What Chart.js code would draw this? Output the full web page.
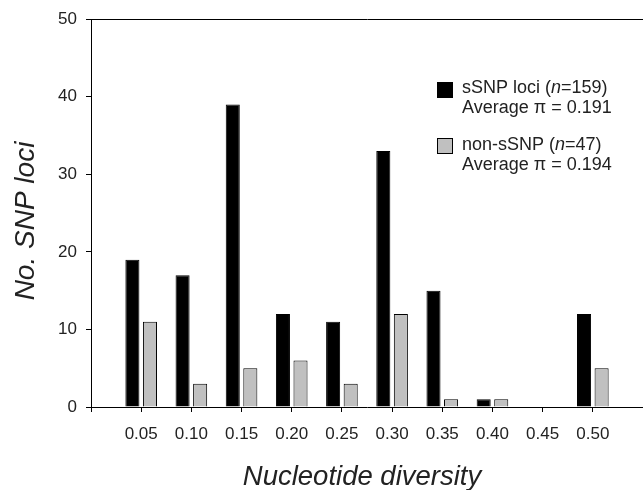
<!DOCTYPE html>
<html>
<head>
<meta charset="utf-8">
<script src="https://cdn.jsdelivr.net/npm/chart.js@4"></script>
<style>
  html, body { margin: 0; padding: 0; background: #fff; overflow: hidden; }
  canvas { display: block; }
</style>
</head>
<body>
<canvas id="c" width="643" height="490"></canvas>
<script>
// ---- data ----
const diversity = [0.05, 0.10, 0.15, 0.20, 0.25, 0.30, 0.35, 0.40, 0.45, 0.50];
const sSNP      = [19, 17, 39, 12, 11, 33, 15, 1, 0, 12];
const nonSSNP   = [11, 3, 5, 6, 3, 12, 1, 1, 0, 5];
const yTicks    = [0, 10, 20, 30, 40, 50];
const legendLines = [
  ["sSNP loci (", "n", "=159)"],
  ["Average \u03c0 = 0.191"],
  ["non-sSNP (", "n", "=47)"],
  ["Average \u03c0 = 0.194"]
];
const xTitle = "Nucleotide diversity";
const yTitle = "No. SNP loci";

const FONT = "'Liberation Sans', Arial, Helvetica, sans-serif";
const TEXT = "#222";

const overlay = {
  id: 'overlay',
  afterDraw(chart) {
    const ctx = chart.ctx;
    ctx.save();
    // axis titles
    ctx.fillStyle = TEXT;
    ctx.textAlign = "center";
    ctx.textBaseline = "alphabetic";
    ctx.font = "italic 27.5px " + FONT;
    ctx.fillText(xTitle, 362, 485);
    ctx.save();
    ctx.font = "italic 28px " + FONT;
    ctx.translate(34, 221);
    ctx.rotate(-Math.PI / 2);
    ctx.fillText(yTitle, 0, 0);
    ctx.restore();

    // legend
    const sq = [[437, 82, '#000000'], [437, 138, '#c0c0c0']];
    sq.forEach(([x, y, c]) => {
      ctx.fillStyle = c;
      ctx.fillRect(x, y, 16, 16);
      ctx.strokeStyle = '#000';
      ctx.lineWidth = 1;
      ctx.strokeRect(x + 0.5, y + 0.5, 15, 15);
    });
    const ys = [88, 108, 145, 165];
    ctx.textAlign = "left";
    ctx.textBaseline = "middle";
    legendLines.forEach((parts, i) => {
      let x = 462;
      parts.forEach((p, j) => {
        ctx.font = (parts.length === 3 && j === 1 ? "italic " : "") + "18px " + FONT;
        ctx.fillStyle = TEXT;
        ctx.fillText(p, x, ys[i]);
        x += ctx.measureText(p).width;
      });
    });
    ctx.restore();
  }
};

new Chart(document.getElementById('c'), {
  type: 'bar',
  data: {
    datasets: [
      {
        label: 'sSNP loci',
        data: diversity.map((d, i) => ({ x: d, y: sSNP[i] })),
        backgroundColor: '#000000',
        borderColor: '#000000',
        borderWidth: 1
      },
      {
        label: 'non-sSNP',
        data: diversity.map((d, i) => ({ x: d, y: nonSSNP[i] })),
        backgroundColor: '#c0c0c0',
        borderColor: '#000000',
        borderWidth: 1
      }
    ]
  },
  options: {
    responsive: false,
    maintainAspectRatio: false,
    animation: false,
    devicePixelRatio: 1,
    categoryPercentage: 0.70,
    barPercentage: 0.80,
    layout: { padding: { top: 19, left: 0, right: 0, bottom: 0 } },
    plugins: {
      legend: { display: false },
      tooltip: { enabled: false }
    },
    scales: {
      x: {
        type: 'linear',
        offset: false,
        min: 0,
        max: 0.55,
        afterFit: s => { s.height = 83; s.paddingRight = 0; s.paddingLeft = 0; },
        afterBuildTicks: s => {
          s.ticks = [0, ...diversity, 0.55].map(v => ({ value: v }));
        },
        ticks: {
          autoSkip: false,
          maxRotation: 0,
          padding: 12,
          color: TEXT,
          font: { family: FONT, size: 17 },
          callback: v => (v > 0.01 && v < 0.52) ? v.toFixed(2) : ''
        },
        grid: {
          offset: false,
          drawOnChartArea: false,
          drawTicks: true,
          tickLength: 5,
          tickColor: '#000',
          color: '#000'
        },
        border: { display: true, color: '#000', width: 1 }
      },
      y: {
        min: 0,
        max: 50,
        afterFit: s => { s.width = 91; },
        afterBuildTicks: s => { s.ticks = yTicks.map(v => ({ value: v })); },
        ticks: {
          padding: 9,
          color: TEXT,
          font: { family: FONT, size: 17 }
        },
        grid: {
          drawOnChartArea: true,
          drawTicks: true,
          tickLength: 5,
          tickColor: '#000',
          color: ctx => (ctx.tick && ctx.tick.value === 50) ? '#000' : 'rgba(0,0,0,0)'
        },
        border: { display: true, color: '#000', width: 1 }
      }
    }
  },
  plugins: [overlay]
});
</script>
</body>
</html>
